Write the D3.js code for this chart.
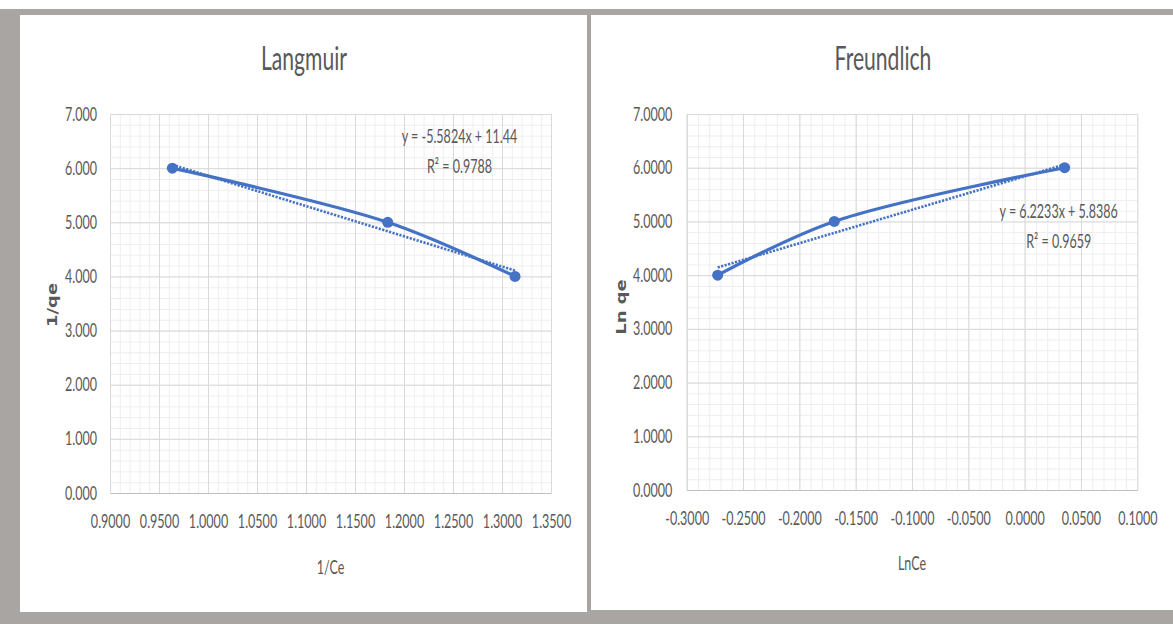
<!DOCTYPE html>
<html>
<head>
<meta charset="utf-8">
<script src="https://cdn.jsdelivr.net/npm/d3@7"></script>
<style>
  html, body { margin: 0; padding: 0; background: #fff; }
  svg { display: block; }
</style>
</head>
<body>
<svg id="chart" width="1173" height="624"></svg>
<script>
// ---- data ----
const langmuirX = [0.9636, 1.1834, 1.3133];   // 1/Ce
const langmuirY = [6.0, 5.0, 4.0];            // 1/qe
const freundlichX = [-0.2725, -0.1690, 0.0355]; // LnCe
const freundlichY = [4.0, 5.0, 6.0];          // Ln qe

// linear trendlines: slope, intercept, R²
const langmuirFit = [-5.5824, 11.44, 0.9788];
const freundlichFit = [6.2233, 5.8386, 0.9659];

// axis ticks
const langmuirXTicks = [0.90, 0.95, 1.00, 1.05, 1.10, 1.15, 1.20, 1.25, 1.30, 1.35];
const freundlichXTicks = [-0.30, -0.25, -0.20, -0.15, -0.10, -0.05, 0.00, 0.05, 0.10];
const yTicks = [0, 1, 2, 3, 4, 5, 6, 7];

// ---- styles ----
const BLUE = "#4472C4";
const TEXT = "#595959";
const FONT = "Lato, 'Open Sans', sans-serif";
const SX = 0.66; // horizontal squeeze of the narrow label face

const svg = d3.select("#chart");

// frame: grey backdrop with two white panels
svg.append("rect").attr("x", 0).attr("y", 9).attr("width", 1173).attr("height", 615).attr("fill", "#a9a5a3");
svg.append("rect").attr("x", 20).attr("y", 15).attr("width", 567).attr("height", 597).attr("fill", "#fff");
svg.append("rect").attr("x", 591).attr("y", 15).attr("width", 582).attr("height", 595).attr("fill", "#fff");

const fmtMinus = f => d => d3.format(f)(d).replace("\u2212", "-");

// narrow text helper: places text at (x, y) squeezed horizontally
function narrowText(g, x, y, str, size, anchor) {
  return g.append("text")
    .attr("x", x / SX).attr("y", y)
    .attr("transform", `scale(${SX},1)`)
    .attr("text-anchor", anchor || "middle")
    .attr("font-family", FONT)
    .attr("font-size", size)
    .attr("fill", TEXT)
    .text(str);
}

function drawChart(cfg) {
  const g = svg.append("g");
  const xs = cfg.xTicks;
  const x = d3.scaleLinear().domain([xs[0], xs[xs.length - 1]]).range(cfg.xRange);
  const y = d3.scaleLinear().domain([yTicks[0], yTicks[yTicks.length - 1]]).range(cfg.yRange);
  const [x0, x1] = cfg.xRange, [yb, yt] = cfg.yRange;
  const w = x1 - x0, h = yb - yt;

  // minor gridlines (5 per major step)
  const xStep = (xs[1] - xs[0]) / 5;
  const minorX = d3.range(0, (xs.length - 1) * 5 + 1).map(i => xs[0] + i * xStep);
  const minorY = d3.range(0, (yTicks.length - 1) * 5 + 1).map(i => i * 0.2);

  const gridStyle = (sel, color) => {
    sel.select(".domain").remove();
    sel.selectAll(".tick line").attr("stroke", color).attr("stroke-width", 1);
  };
  g.append("g").attr("transform", `translate(0,${yb})`)
    .call(d3.axisBottom(x).tickValues(minorX).tickSize(-h).tickFormat(""))
    .call(s => gridStyle(s, "#eeeeee"));
  g.append("g").attr("transform", `translate(${x0},0)`)
    .call(d3.axisLeft(y).tickValues(minorY).tickSize(-w).tickFormat(""))
    .call(s => gridStyle(s, "#eeeeee"));
  // major gridlines
  g.append("g").attr("transform", `translate(0,${yb})`)
    .call(d3.axisBottom(x).tickValues(xs).tickSize(-h).tickFormat(""))
    .call(s => gridStyle(s, "#d9d9d9"));
  g.append("g").attr("transform", `translate(${x0},0)`)
    .call(d3.axisLeft(y).tickValues(yTicks).tickSize(-w).tickFormat(""))
    .call(s => gridStyle(s, "#d9d9d9"));

  // axes with labels
  const xa = g.append("g").attr("transform", `translate(0,${yb})`)
    .call(d3.axisBottom(x).tickValues(xs).tickSize(0).tickPadding(22).tickFormat(fmtMinus(".4f")));
  xa.select(".domain").attr("stroke", "#bfbfbf");
  const ya = g.append("g").attr("transform", `translate(${x0},0)`)
    .call(d3.axisLeft(y).tickValues(yTicks).tickSize(0).tickPadding(cfg.yPad).tickFormat(fmtMinus(cfg.yFmt)));
  ya.select(".domain").attr("stroke", "#d9d9d9");
  [xa, ya].forEach(a => {
    a.attr("font-family", FONT).attr("font-size", 19);
    a.selectAll(".tick text")
      .attr("fill", TEXT)
      .attr("x", function () { return (+this.getAttribute("x") || 0) / SX; })
      .attr("transform", `scale(${SX},1)`);
  });

  // title and axis titles
  narrowText(g, cfg.titleX, 70, cfg.title, 32);
  narrowText(g, (x0 + x1) / 2, cfg.xTitleY, cfg.xTitle, 19);
  g.append("text")
    .attr("transform", `translate(${cfg.yTitleX},${cfg.yTitleY}) rotate(-90) scale(1,0.8)`)
    .attr("text-anchor", "middle")
    .attr("font-family", "'DejaVu Sans', Verdana, sans-serif")
    .attr("font-weight", "bold")
    .attr("font-size", 18)
    .attr("fill", TEXT)
    .text(cfg.yTitle);

  // data series: smoothed line
  const pts = cfg.xv.map((v, i) => [v, cfg.yv[i]]);
  const line = d3.line().x(d => x(d[0])).y(d => y(d[1])).curve(d3.curveCatmullRom.alpha(0.5));
  g.append("path").datum(pts)
    .attr("d", line).attr("fill", "none")
    .attr("stroke", BLUE).attr("stroke-width", 3.2).attr("stroke-linecap", "round");

  // linear trendline over the data range
  const [m, b, r2] = cfg.fit;
  const ext = d3.extent(cfg.xv);
  const tl = ext.map(v => [v, m * v + b]);
  g.append("path").datum(tl)
    .attr("d", d3.line().x(d => x(d[0])).y(d => y(d[1])))
    .attr("fill", "none").attr("stroke", BLUE)
    .attr("stroke-width", 2.6).attr("stroke-dasharray", "2.2,1.4");

  // markers
  g.selectAll("circle.pt").data(pts).join("circle")
    .attr("class", "pt")
    .attr("cx", d => x(d[0])).attr("cy", d => y(d[1]))
    .attr("r", 5.5).attr("fill", BLUE);

  // trendline equation
  const eq = `y = ${m}x + ${b}`.replace("+ -", "- ");
  narrowText(g, cfg.eqX, cfg.eqY, eq, 19);
  narrowText(g, cfg.eqX, cfg.eqY + 30, `R\u00b2 = ${r2}`, 19);
}

drawChart({
  title: "Langmuir", titleX: 304,
  xv: langmuirX, yv: langmuirY, fit: langmuirFit,
  xTicks: langmuirXTicks, yFmt: ".3f", yPad: 13,
  xRange: [110, 551], yRange: [493, 114],
  xTitle: "1/Ce", xTitleY: 574,
  yTitle: "1/qe", yTitleX: 57, yTitleY: 305,
  eqX: 459.5, eqY: 143.5
});

drawChart({
  title: "Freundlich", titleX: 883,
  xv: freundlichX, yv: freundlichY, fit: freundlichFit,
  xTicks: freundlichXTicks, yFmt: ".4f", yPad: 14.5,
  xRange: [686.7, 1137.3], yRange: [490, 114],
  xTitle: "LnCe", xTitleY: 570,
  yTitle: "Ln qe", yTitleX: 626, yTitleY: 307,
  eqX: 1058.7, eqY: 218
});
</script>
</body>
</html>
